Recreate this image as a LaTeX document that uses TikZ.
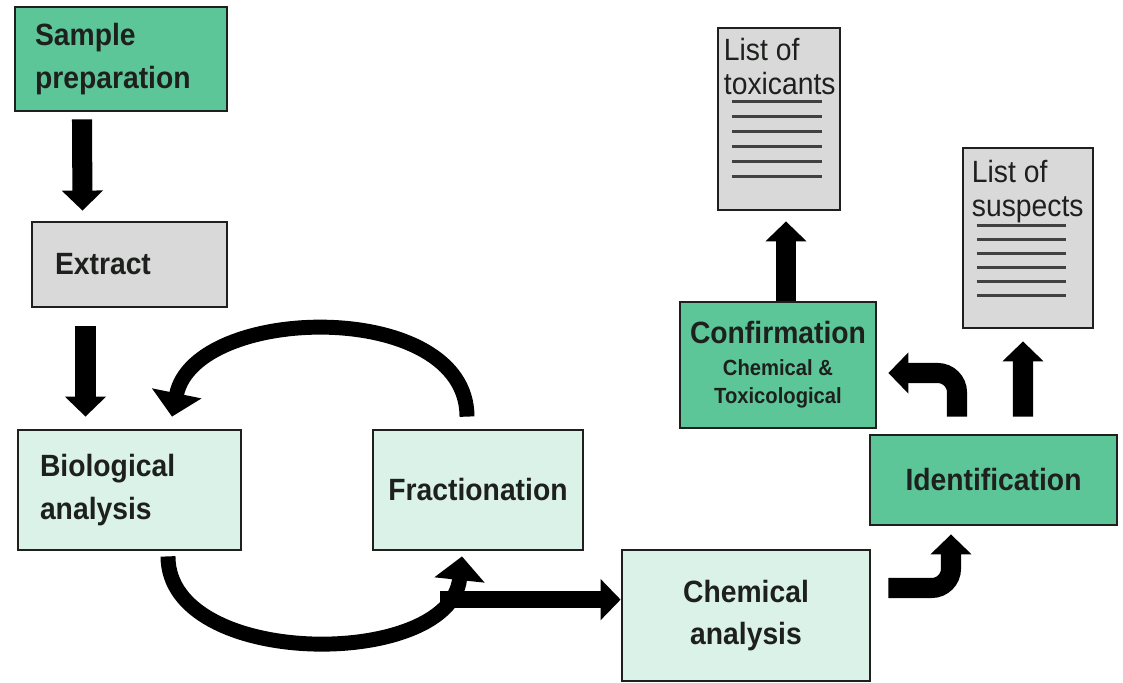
\documentclass[tikz,border=0pt]{standalone}
\usepackage{fontspec}
\setmainfont{Liberation Sans}[FakeStretch=0.92]
\usetikzlibrary{arrows.meta,calc}
\definecolor{ink}{RGB}{30,32,30}
\definecolor{leaf}{RGB}{92,198,152}
\definecolor{mint}{RGB}{218,242,232}
\definecolor{paper}{RGB}{217,217,217}
\definecolor{rule}{RGB}{65,65,65}

\tikzset{
  stage/.style={draw=ink, line width=1.6pt, text=ink, inner sep=0pt,
    font=\bfseries\fontsize{17.5}{24}\selectfont},
  leftstage/.style={stage, align=left},
  midstage/.style={stage, align=center},
  doc/.style={draw=ink, line width=1.6pt, fill=paper, inner sep=0pt},
  doctext/.style={inner sep=0pt, align=left, text=ink, anchor=north west,
    font=\fontsize{17.5}{19.5}\selectfont},
  docline/.style={draw=rule, line width=1.4pt},
  fatarrow/.style={draw=black, line width=11.4pt,
    -{Triangle[width=22.8pt,length=11.4pt]}},
  looparrow/.style={draw=black, line width=8.5pt,
    -{Triangle[width=28pt,length=13.5pt]}}
}

\begin{document}
\begin{tikzpicture}[x=0.02cm, y=-0.02cm]
  \useasboundingbox (0,0) rectangle (1123,683);
  % left column
  \node[leftstage, fill=leaf, minimum width=4.24cm, minimum height=2.08cm,
    inner xsep=0.4cm, text width=3.44cm] (sample) at (121,59) {Sample\\preparation};
  \node[leftstage, fill=paper, minimum width=3.9cm, minimum height=1.7cm,
    inner xsep=0.46cm, text width=2.98cm] (extract) at (129.5,264.5) {Extract};
  \node[leftstage, fill=mint, minimum width=4.46cm, minimum height=2.4cm,
    inner xsep=0.44cm, text width=3.58cm] (bio) at (129.5,490) {Biological\\analysis};
  % loop
  \node[midstage, fill=mint, minimum width=4.2cm, minimum height=2.4cm] (frac) at (478,490) {Fractionation};
  \node[midstage, fill=mint, minimum width=4.96cm, minimum height=2.62cm] (chem) at (746,615.5) {Chemical\\analysis};
  % right side
  \node[midstage, fill=leaf, minimum width=4.94cm, minimum height=1.8cm] (ident) at (993.5,480) {Identification};
  \node[midstage, fill=leaf, minimum width=3.92cm, minimum height=2.52cm] (conf) at (778,365)
    {Confirmation\\[-6pt]{\fontsize{12.5}{16}\selectfont Chemical \&}\\[-8pt]{\fontsize{12.5}{16}\selectfont Toxicological}};
  % lists
  \node[doc, minimum width=2.44cm, minimum height=3.64cm] (tox) at (779,119) {};
  \node[doctext] (toxtitle) at ($(tox.north west)+(7,11)$) {List of\\toxicants};
  \foreach \i in {0,...,5}
    \draw[docline] ($(tox.north west)+(15,75+15*\i)$) -- ++(90,0);
  \node[doc, minimum width=2.6cm, minimum height=3.6cm] (susp) at (1028,238) {};
  \node[doctext] (susptitle) at ($(susp.north west)+(10,13)$) {List of\\suspects};
  \foreach \i in {0,...,5}
    \draw[docline] ($(susp.north west)+(15,79+14*\i)$) -- ++(89,0);

  % connectors
  \draw[fatarrow] ($(sample.south)+(-39,7)$) -- ($(extract.north)+(-47,-10)$);
  \draw[fatarrow] ($(extract.south)+(-44,18)$) -- ($(bio.north)+(-44,-12)$);
  \draw[looparrow] ($(frac.north)+(-11,-12)$) .. controls +(0,-118) and +(23,-113) .. ($(bio.north)+(42.5,-12)$);
  \draw[looparrow] ($(bio.south)+(38.5,5)$) .. controls +(0,113) and +(-12,113) .. ($(frac.south)+(-16,5)$)
    coordinate[pos=0.85] (fork);
  \draw[fatarrow, line width=10pt] (fork) -- (fork -| chem.west);
  \draw[fatarrow, rounded corners=11pt] ($(chem.east)+(17,-27.5)$) -| ($(ident.south)+(-42.5,8)$);
  \draw[fatarrow, rounded corners=11pt] ($(ident.north)+(-36.5,-17)$) |- ($(conf.east)+(11,8)$);
  \draw[fatarrow] ($(ident.north)+(29.5,-17)$) -- ($(susp.south)+(-5,12)$);
  \draw[fatarrow] ($(conf.north)+(8,0)$) -- ($(tox.south)+(7,10)$);
\end{tikzpicture}
\end{document}
